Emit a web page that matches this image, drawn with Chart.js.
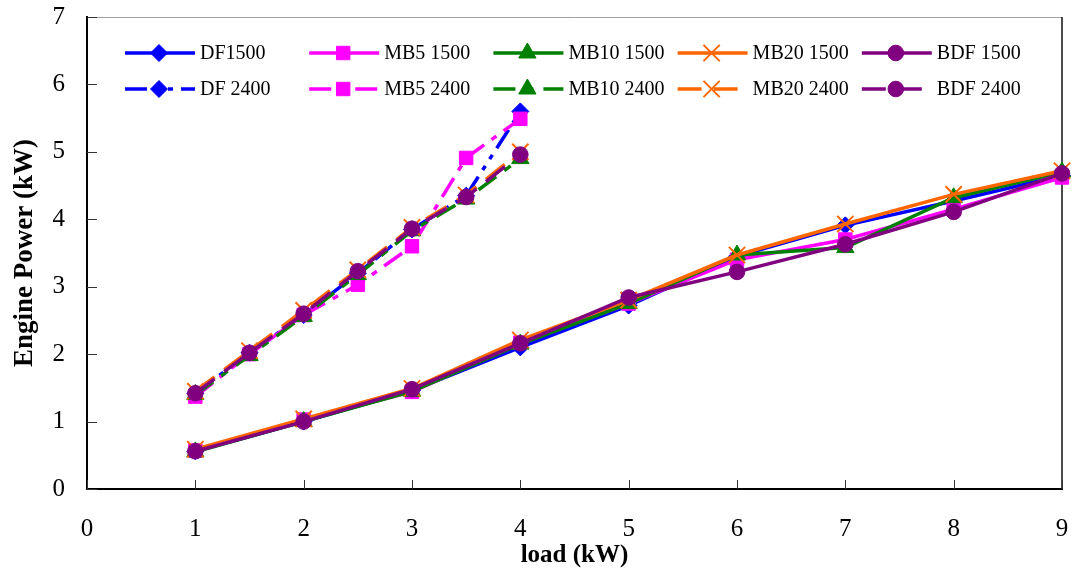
<!DOCTYPE html>
<html><head><meta charset="utf-8">
<script src="https://cdn.jsdelivr.net/npm/chart.js@4/dist/chart.umd.min.js"></script>
<style>html,body{margin:0;padding:0;background:#fff}#wrap{width:1072px;height:571px;position:relative}</style>
</head><body><div id="wrap"><canvas id="c"></canvas></div>
<script>
// ---- data ----
const loads1500 = [1, 2, 3, 4, 5, 6, 7, 8, 9];
const loads2400 = [1, 1.5, 2, 2.5, 3, 3.5, 4];
const df1500   = [0.56, 1.00, 1.46, 2.10, 2.72, 3.45, 3.91, 4.27, 4.65];
const mb5_1500 = [0.57, 1.03, 1.44, 2.17, 2.75, 3.40, 3.70, 4.15, 4.62];
const mb10_1500= [0.55, 1.00, 1.45, 2.15, 2.75, 3.47, 3.58, 4.32, 4.70];
const mb20_1500= [0.59, 1.04, 1.49, 2.21, 2.80, 3.47, 3.93, 4.37, 4.72];
const bdf1500  = [0.56, 1.00, 1.48, 2.16, 2.84, 3.22, 3.63, 4.11, 4.68];
const df2400   = [1.42, 2.02, 2.58, 3.20, 3.85, 4.35, 5.60];
const mb5_2400 = [1.37, 2.00, 2.58, 3.03, 3.60, 4.91, 5.49];
const mb10_2400= [1.40, 1.98, 2.56, 3.18, 3.83, 4.30, 4.90];
const mb20_2400= [1.45, 2.05, 2.65, 3.25, 3.88, 4.36, 5.00];
const bdf2400  = [1.42, 2.02, 2.60, 3.23, 3.86, 4.33, 4.96];
const seriesNames = ['DF1500','MB5 1500','MB10 1500','MB20 1500','BDF 1500','DF 2400','MB5 2400','MB10 2400','MB20 2400','BDF 2400'];
const xTicks = [0,1,2,3,4,5,6,7,8,9];
const yTicks = [0,1,2,3,4,5,6,7];
const xTitle = 'load (kW)';
const yTitle = 'Engine Power (kW)';

// ---- styles ----
const colors = ['#0000FF','#FF00FF','#008000','#FF6600','#800080'];
const markers = ['rectRot','rect','triangle','crossRot','circle'];
const radii = [8.5, 9.5, 10, 11.5, 7.8];
const dashes2400 = [[22,8,5,8,5,8],[22,9,6,9],[22,10,8,10],[24,12],[24,12]];

const values = [df1500, mb5_1500, mb10_1500, mb20_1500, bdf1500, df2400, mb5_2400, mb10_2400, mb20_2400, bdf2400];

const datasets = values.map((vals, i) => {
  const k = i % 5;
  const xs = i < 5 ? loads1500 : loads2400;
  const isCross = markers[k] === 'crossRot';
  return {
    label: seriesNames[i],
    data: vals.map((v, j) => ({x: xs[j], y: v})),
    borderColor: colors[k],
    backgroundColor: colors[k],
    borderWidth: 3.5,
    borderDash: i < 5 ? [] : dashes2400[k],
    pointStyle: markers[k],
    pointRadius: radii[k],
    pointHoverRadius: radii[k],
    pointBackgroundColor: colors[k],
    pointBorderColor: colors[k],
    pointBorderWidth: isCross ? 2 : 1,
    tension: 0,
    clip: false,
    order: 10 - i
  };
});

function drawMarker(ctx, style, r, x, y, bw) {
  if (Chart.helpers && Chart.helpers.drawPoint) {
    Chart.helpers.drawPoint(ctx, {pointStyle: style, radius: r, rotation: 0, borderWidth: bw}, x, y);
    return;
  }
  ctx.beginPath(); ctx.arc(x, y, r, 0, Math.PI*2); ctx.fill();
}

function noPad(s) { s.paddingTop = 0; s.paddingBottom = 0; s.paddingLeft = 0; s.paddingRight = 0; }

const frameAndTicks = {
  id: 'frameAndTicks',
  beforeDatasetsDraw(chart) {
    const ctx = chart.ctx, a = chart.chartArea, xs = chart.scales.x, ys = chart.scales.y;
    ctx.save();
    ctx.lineWidth = 1;
    ctx.strokeStyle = '#a0a0a0';
    ctx.beginPath(); ctx.moveTo(a.left, a.top + 0.5); ctx.lineTo(a.right, a.top + 0.5); ctx.stroke();
    ctx.strokeStyle = '#111';
    ctx.lineWidth = 1.5;
    ctx.beginPath(); ctx.moveTo(a.right, a.top); ctx.lineTo(a.right, a.bottom); ctx.stroke();
    ctx.lineWidth = 1;
    ctx.strokeStyle = '#333';
    xTicks.forEach(v => {
      const px = Math.round(xs.getPixelForValue(v)) + 0.5;
      ctx.beginPath(); ctx.moveTo(px, a.bottom); ctx.lineTo(px, a.bottom - 9); ctx.stroke();
    });
    yTicks.forEach(v => {
      const py = Math.round(ys.getPixelForValue(v)) + 0.5;
      ctx.beginPath(); ctx.moveTo(a.left, py); ctx.lineTo(a.left + 10, py); ctx.stroke();
    });
    ctx.restore();
  }
};

const inlineLegend = {
  id: 'inlineLegend',
  afterDatasetsDraw(chart) {
    const ctx = chart.ctx, a = chart.chartArea;
    chart.data.datasets.forEach((ds, i) => {
      const col = i % 5, row = Math.floor(i / 5);
      const x0 = a.left + 38 + col * 184.2;
      const y = a.top + 36 + row * 36;
      ctx.save();
      ctx.strokeStyle = ds.borderColor;
      ctx.lineWidth = ds.borderWidth;
      ctx.setLineDash(ds.borderDash || []);
      ctx.beginPath(); ctx.moveTo(x0, y); ctx.lineTo(x0 + 70, y); ctx.stroke();
      ctx.setLineDash([]);
      ctx.fillStyle = ds.pointBackgroundColor;
      ctx.strokeStyle = ds.pointBorderColor;
      ctx.lineWidth = ds.pointBorderWidth;
      drawMarker(ctx, ds.pointStyle, ds.pointRadius, x0 + 34, y, ds.pointBorderWidth);
      ctx.fillStyle = '#000';
      ctx.font = '20px "Liberation Serif"';
      ctx.textBaseline = 'middle';
      ctx.textAlign = 'left';
      ctx.fillText(ds.label, x0 + 75, y + 1);
      ctx.restore();
    });
  }
};

new Chart(document.getElementById('c'), {
  type: 'line',
  data: { datasets },
  plugins: [frameAndTicks, inlineLegend],
  options: {
    responsive: true,
    maintainAspectRatio: false,
    animation: false,
    layout: { autoPadding: false, padding: { top: 17, right: 10, left: 0, bottom: 0 } },
    plugins: { legend: { display: false }, tooltip: { enabled: false } },
    scales: {
      x: {
        type: 'linear', min: 0, max: 9,
        afterFit(s) { s.height = 82; noPad(s); },
        afterBuildTicks(s) { s.ticks = xTicks.map(v => ({value: v})); },
        grid: { display: false, drawTicks: false },
        border: { display: true, color: '#000', width: 2 },
        ticks: { color: '#000', padding: 25, font: { family: '"Liberation Serif"', size: 25 }, maxRotation: 0 },
        title: { display: true, text: xTitle, color: '#000', padding: { top: 0, bottom: 0 },
                 font: { family: '"Liberation Serif"', size: 25, weight: 'bold' } }
      },
      y: {
        type: 'linear', min: 0, max: 7,
        afterFit(s) { s.width = 87; noPad(s); },
        afterBuildTicks(s) { s.ticks = yTicks.map(v => ({value: v})); },
        grid: { display: false, drawTicks: false },
        border: { display: true, color: '#000', width: 2 },
        ticks: { color: '#000', padding: 22, font: { family: '"Liberation Serif"', size: 25 } },
        title: { display: true, text: yTitle, color: '#000', padding: { top: 9, bottom: 0 },
                 font: { family: '"Liberation Serif"', size: 27, weight: 'bold' } }
      }
    }
  }
});
</script></body></html>
